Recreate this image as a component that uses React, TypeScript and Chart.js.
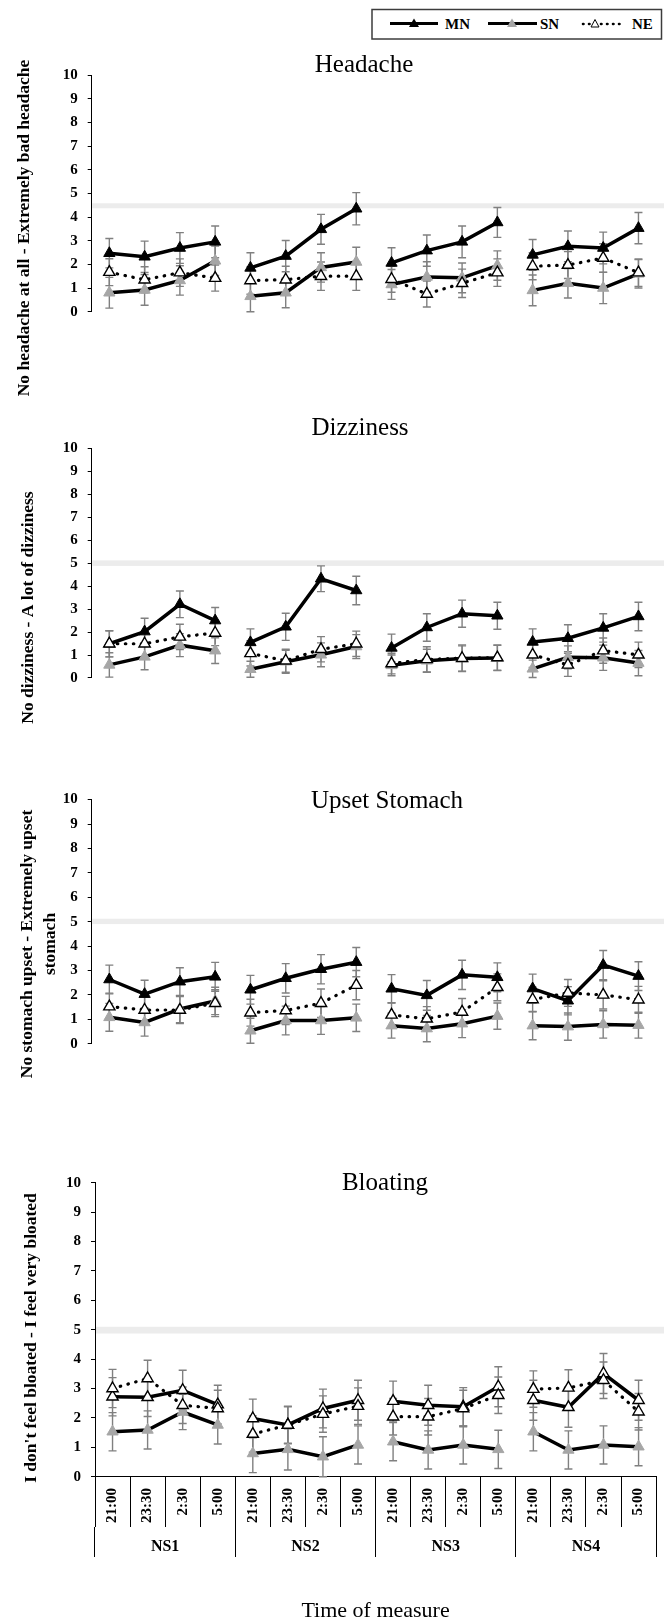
import React, { useEffect, useRef } from 'react';
import { Chart, registerables } from 'chart.js';

Chart.register(...registerables);

// ---------------- data ----------------
const times = ['21:00', '23:30', '2:30', '5:00'];
const nights = ['NS1', 'NS2', 'NS3', 'NS4'];
const seriesNames = ['MN', 'SN', 'NE'];
const panelTitles = ['Headache', 'Dizziness', 'Upset Stomach', 'Bloating'];
const yAxisTitles = [
  ['No headache at all - Extremely bad headache'],
  ['No dizziness - A lot of dizziness'],
  ['No stomach upset - Extremely upset', 'stomach'],
  ["I don't feel bloated - I feel very bloated"],
];
const xAxisTitle = 'Time of measure';
const bandLow = [4.37, 4.88, 4.9, 4.87];
const bandHigh = [4.58, 5.12, 5.12, 5.1];

const headacheMN = [2.47, 2.32, 2.69, 2.95, 1.85, 2.35, 3.48, 4.35, 2.06, 2.58, 2.95, 3.77, 2.4, 2.76, 2.69, 3.53];
const headacheMNErr = [0.62, 0.66, 0.65, 0.67, 0.64, 0.66, 0.63, 0.68, 0.64, 0.66, 0.67, 0.63, 0.65, 0.65, 0.67, 0.66];
const headacheSN = [0.8, 0.92, 1.32, 2.15, 0.65, 0.8, 1.87, 2.1, 1.15, 1.47, 1.43, 1.95, 0.9, 1.2, 1.0, 1.6];
const headacheSNErr = [0.65, 0.65, 0.62, 0.62, 0.65, 0.63, 0.62, 0.62, 0.63, 0.64, 0.63, 0.62, 0.65, 0.62, 0.66, 0.6];
const headacheNE = [1.67, 1.35, 1.65, 1.42, 1.32, 1.35, 1.5, 1.5, 1.37, 0.75, 1.2, 1.65, 1.92, 1.97, 2.27, 1.65];
const headacheNEErr = [0.57, 0.55, 0.58, 0.55, 0.58, 0.57, 0.6, 0.6, 0.55, 0.55, 0.6, 0.58, 0.57, 0.57, 0.6, 0.58];

const dizzinessMN = [1.49, 2.02, 3.21, 2.5, 1.55, 2.23, 4.32, 3.81, 1.31, 2.2, 2.8, 2.71, 1.57, 1.73, 2.18, 2.68];
const dizzinessMNErr = [0.57, 0.58, 0.58, 0.57, 0.59, 0.59, 0.56, 0.62, 0.6, 0.6, 0.59, 0.59, 0.57, 0.59, 0.62, 0.62];
const dizzinessSN = [0.57, 0.92, 1.43, 1.19, 0.38, 0.71, 1.01, 1.37, 0.55, 0.75, 0.85, 0.87, 0.4, 0.9, 0.88, 0.65];
const dizzinessSNErr = [0.53, 0.56, 0.5, 0.56, 0.35, 0.5, 0.52, 0.52, 0.45, 0.5, 0.55, 0.55, 0.38, 0.5, 0.55, 0.55];
const dizzinessNE = [1.49, 1.49, 1.79, 1.96, 1.07, 0.75, 1.25, 1.49, 0.63, 0.81, 0.86, 0.89, 1.01, 0.57, 1.19, 1.01];
const dizzinessNEErr = [0.57, 0.55, 0.55, 0.55, 0.55, 0.5, 0.55, 0.55, 0.45, 0.55, 0.58, 0.55, 0.55, 0.5, 0.55, 0.55];

const upsetMN = [2.63, 2.03, 2.54, 2.74, 2.21, 2.68, 3.05, 3.34, 2.25, 1.98, 2.82, 2.72, 2.26, 1.76, 3.22, 2.77];
const upsetMNErr = [0.59, 0.57, 0.57, 0.59, 0.59, 0.6, 0.6, 0.6, 0.58, 0.61, 0.6, 0.59, 0.59, 0.58, 0.6, 0.59];
const upsetSN = [1.08, 0.87, 1.42, 1.75, 0.53, 0.95, 0.95, 1.06, 0.74, 0.62, 0.82, 1.13, 0.74, 0.7, 0.79, 0.76];
const upsetSNErr = [0.57, 0.56, 0.56, 0.56, 0.51, 0.59, 0.57, 0.56, 0.51, 0.54, 0.57, 0.54, 0.58, 0.56, 0.56, 0.53];
const upsetNE = [1.52, 1.38, 1.38, 1.66, 1.27, 1.36, 1.66, 2.4, 1.18, 1.02, 1.3, 2.31, 1.81, 2.08, 2.0, 1.8];
const upsetNEErr = [0.55, 0.55, 0.55, 0.55, 0.55, 0.58, 0.58, 0.6, 0.5, 0.5, 0.55, 0.55, 0.5, 0.55, 0.58, 0.55];

const bloatingMN = [2.72, 2.7, 2.94, 2.45, 1.98, 1.76, 2.32, 2.6, 2.57, 2.43, 2.38, 3.06, 2.6, 2.36, 3.51, 2.6];
const bloatingMNErr = [0.65, 0.65, 0.68, 0.66, 0.66, 0.64, 0.66, 0.68, 0.68, 0.68, 0.65, 0.68, 0.68, 0.68, 0.68, 0.68];
const bloatingSN = [1.53, 1.59, 2.2, 1.76, 0.79, 0.93, 0.68, 1.08, 1.19, 0.91, 1.08, 0.93, 1.53, 0.91, 1.08, 1.02];
const bloatingSNErr = [0.65, 0.65, 0.6, 0.65, 0.65, 0.7, 0.68, 0.65, 0.65, 0.65, 0.65, 0.65, 0.65, 0.65, 0.65, 0.65];
const bloatingNE = [3.0, 3.34, 2.43, 2.32, 1.45, 1.76, 2.13, 2.4, 2.04, 2.04, 2.32, 2.77, 2.98, 3.02, 3.28, 2.21];
const bloatingNEErr = [0.65, 0.62, 0.62, 0.62, 0.62, 0.62, 0.62, 0.62, 0.62, 0.62, 0.62, 0.62, 0.62, 0.62, 0.62, 0.62];

const seriesByPanel = [
  [[headacheMN, headacheMNErr], [headacheSN, headacheSNErr], [headacheNE, headacheNEErr]],
  [[dizzinessMN, dizzinessMNErr], [dizzinessSN, dizzinessSNErr], [dizzinessNE, dizzinessNEErr]],
  [[upsetMN, upsetMNErr], [upsetSN, upsetSNErr], [upsetNE, upsetNEErr]],
  [[bloatingMN, bloatingMNErr], [bloatingSN, bloatingSNErr], [bloatingNE, bloatingNEErr]],
];

// ---------------- layout / style ----------------
const SERIF = '"Liberation Serif", "Times New Roman", serif';
const W = 664;
const panelLayout = [
  { top: 45, height: 360, chartTop: 75, chartBottom: 362, axisX: 91.7, titleX: 364, titleY: 71.7, labelX: 24, labelY: 228, labelGap: 22.5, mnFill: '#000' },
  { top: 410, height: 340, chartTop: 448.3, chartBottom: 728.3, axisX: 91.7, titleX: 360, titleY: 435, labelX: 28, labelY: 607.5, labelGap: 22.5, mnFill: '#000' },
  { top: 770, height: 345, chartTop: 799.6, chartBottom: 1094, axisX: 91.7, titleX: 387, titleY: 807.7, labelX: 27.5, labelY: 944, labelGap: 22.5, mnFill: '#000' },
  { top: 1150, height: 472, chartTop: 1182.7, chartBottom: 1476.7, axisX: 95, titleX: 385, titleY: 1190, labelX: 31, labelY: 1338, labelGap: 22.5, mnFill: '#fff' },
];
const X_AXIS_H = 50.3;
const X2_AXIS_H = 95;
const SN_GRAY = '#a6a6a6';

Chart.defaults.font.family = SERIF;

const bandPlugin = {
  id: 'band',
  beforeDraw(chart: any, _args: any, opts: any) {
    const { ctx, chartArea } = chart;
    const y = chart.scales.y;
    const t = y.getPixelForValue(opts.hi);
    const b = y.getPixelForValue(opts.lo);
    ctx.save();
    ctx.fillStyle = '#ececec';
    ctx.fillRect(chartArea.left + 0.5, t, chart.width - chartArea.left, b - t);
    ctx.restore();
  },
};

const errorBarsPlugin = {
  id: 'errorBars',
  beforeDatasetsDraw(chart: any) {
    const { ctx } = chart;
    const y = chart.scales.y;
    ctx.save();
    ctx.strokeStyle = '#808080';
    ctx.lineWidth = 1.4;
    chart.data.datasets.forEach((ds: any, di: number) => {
      if (!ds.errors) return;
      const meta = chart.getDatasetMeta(di);
      meta.data.forEach((pt: any, i: number) => {
        const v = ds.data[i];
        const e = ds.errors[i];
        const x = pt.x;
        const yt = y.getPixelForValue(v + e);
        const yb = y.getPixelForValue(Math.max(v - e, 0));
        ctx.beginPath();
        ctx.moveTo(x, yt);
        ctx.lineTo(x, yb);
        ctx.moveTo(x - 4, yt);
        ctx.lineTo(x + 4, yt);
        ctx.moveTo(x - 4, yb);
        ctx.lineTo(x + 4, yb);
        ctx.stroke();
      });
    });
    ctx.restore();
  },
};

const panelTextPlugin = {
  id: 'panelText',
  afterDraw(chart: any, _args: any, opts: any) {
    const { ctx } = chart;
    ctx.save();
    ctx.fillStyle = '#000';
    ctx.font = `25px ${SERIF}`;
    ctx.textAlign = 'center';
    ctx.textBaseline = 'alphabetic';
    ctx.fillText(opts.title, opts.titleX, opts.titleY - opts.offsetY);
    ctx.font = `bold 17.5px ${SERIF}`;
    ctx.textBaseline = 'middle';
    opts.label.forEach((line: string, k: number) => {
      ctx.save();
      ctx.translate(opts.labelX + k * opts.labelGap, opts.labelY - opts.offsetY);
      ctx.rotate(-Math.PI / 2);
      ctx.fillText(line, 0, 0);
      ctx.restore();
    });
    ctx.restore();
  },
};

const groupGap = (color: string) => (ctx: any) =>
  ctx.p0DataIndex % times.length === times.length - 1 ? 'rgba(0,0,0,0)' : color;

function buildChart(canvas: HTMLCanvasElement, idx: number) {
  const L = panelLayout[idx];
  const isLast = idx === panelLayout.length - 1;
  const [[mn, mnErr], [sn, snErr], [ne, neErr]] = seriesByPanel[idx];
  const categories = nights.flatMap(() => times);

  const tickFont = { family: SERIF, size: 15, weight: 'bold' as const };

  const scales: any = {
    x: {
      display: isLast,
      offset: true,
      grid: { display: true, offset: true, drawOnChartArea: false, drawTicks: true, tickLength: X_AXIS_H, color: '#000', lineWidth: 1 },
      border: { display: true, color: '#000', width: 1 },
      ticks: { autoSkip: false, minRotation: 90, maxRotation: 90, padding: -39, color: '#000', font: tickFont },
      afterFit: (s: any) => { s.height = X_AXIS_H; },
    },
    y: {
      min: 0,
      max: 10,
      ticks: { stepSize: 1, color: '#000', font: tickFont, padding: 10 },
      grid: { drawOnChartArea: false, drawTicks: true, tickLength: 4, color: '#000', lineWidth: 1 },
      border: { display: true, color: '#000', width: 1 },
      afterFit: (s: any) => { s.width = L.axisX; },
    },
  };
  if (isLast) {
    scales.x2 = {
      type: 'category',
      labels: nights,
      position: 'bottom',
      offset: true,
      grid: { display: true, offset: true, drawOnChartArea: false, drawTicks: true, tickLength: 30, color: '#000', lineWidth: 1 },
      border: { display: false },
      ticks: { autoSkip: false, minRotation: 0, maxRotation: 0, padding: -20, color: '#000', font: { family: SERIF, size: 16, weight: 'bold' } },
      title: { display: true, text: xAxisTitle, color: '#000', font: { family: SERIF, size: 22, lineHeight: 1 }, padding: 0 },
      afterFit: (s: any) => { s.height = X2_AXIS_H; },
    };
  }

  const padTop = L.chartTop - L.top;
  const padBottom = isLast ? 0 : L.top + L.height - L.chartBottom;

  return new Chart(canvas, {
    type: 'line',
    data: {
      labels: categories,
      datasets: [
        {
          label: seriesNames[0],
          data: mn,
          errors: mnErr,
          borderColor: '#000',
          borderWidth: 3.5,
          pointStyle: 'triangle',
          pointRadius: 6.5,
          pointBackgroundColor: L.mnFill,
          pointBorderColor: '#000',
          pointBorderWidth: L.mnFill === '#fff' ? 1.4 : 1,
          tension: 0,
          order: 1,
          segment: { borderColor: groupGap('#000') },
        } as any,
        {
          label: seriesNames[1],
          data: sn,
          errors: snErr,
          borderColor: '#000',
          borderWidth: 3.5,
          pointStyle: 'triangle',
          pointRadius: 6.5,
          pointBackgroundColor: SN_GRAY,
          pointBorderColor: SN_GRAY,
          pointBorderWidth: 1,
          tension: 0,
          order: 2,
          segment: { borderColor: groupGap('#000') },
        } as any,
        {
          label: seriesNames[2],
          data: ne,
          errors: neErr,
          borderColor: '#000',
          borderWidth: 3.2,
          borderDash: [0.5, 7.5],
          borderCapStyle: 'round',
          pointStyle: 'triangle',
          pointRadius: 6.5,
          pointBackgroundColor: '#fff',
          pointBorderColor: '#000',
          pointBorderWidth: 1.4,
          tension: 0,
          order: 0,
          segment: { borderColor: groupGap('#000') },
        } as any,
      ],
    },
    options: {
      animation: false,
      responsive: false,
      devicePixelRatio: 1,
      events: [],
      layout: { padding: { top: padTop, bottom: padBottom, left: 0, right: W - 661 } },
      plugins: {
        legend: { display: false },
        tooltip: { enabled: false },
        band: { lo: bandLow[idx], hi: bandHigh[idx] },
        panelText: {
          title: panelTitles[idx],
          titleX: L.titleX,
          titleY: L.titleY,
          label: yAxisTitles[idx],
          labelX: L.labelX,
          labelY: L.labelY,
          labelGap: L.labelGap,
          offsetY: L.top,
        },
      } as any,
      scales,
    },
    plugins: [bandPlugin, errorBarsPlugin, panelTextPlugin],
  });
}

function Legend() {
  const fontFamily = SERIF;
  return (
    <svg width={W} height={45} style={{ position: 'absolute', left: 0, top: 0 }}>
      <rect x={372} y={9.5} width={289.5} height={29.5} fill="#fff" stroke="#3c3c3c" strokeWidth={1.5} />
      <line x1={390} y1={23.5} x2={438} y2={23.5} stroke="#000" strokeWidth={3.2} />
      <polygon points="414,18.5 419,27 409,27" fill="#000" />
      <text x={445} y={28.5} fontFamily={fontFamily} fontWeight="bold" fontSize={15} fill="#000">{seriesNames[0]}</text>
      <line x1={488} y1={23.5} x2={537} y2={23.5} stroke="#000" strokeWidth={3.2} />
      <polygon points="512,18.5 517,27 507,27" fill={SN_GRAY} />
      <text x={540} y={28.5} fontFamily={fontFamily} fontWeight="bold" fontSize={15} fill="#000">{seriesNames[1]}</text>
      <line x1={583} y1={24} x2={624} y2={24} stroke="#000" strokeWidth={2.6} strokeDasharray="0.5 5.5" strokeLinecap="round" />
      <polygon points="595,19.5 599,27 591,27" fill="#fff" stroke="#000" strokeWidth={1} />
      <text x={632} y={28.5} fontFamily={fontFamily} fontWeight="bold" fontSize={15} fill="#000">{seriesNames[2]}</text>
    </svg>
  );
}

export default function App() {
  const r0 = useRef<HTMLCanvasElement>(null);
  const r1 = useRef<HTMLCanvasElement>(null);
  const r2 = useRef<HTMLCanvasElement>(null);
  const r3 = useRef<HTMLCanvasElement>(null);
  const refs = [r0, r1, r2, r3];

  useEffect(() => {
    const charts = refs.map((r, i) => buildChart(r.current as HTMLCanvasElement, i));
    return () => charts.forEach((c) => c.destroy());
  }, []);

  return (
    <div style={{ position: 'absolute', left: 0, top: 0, width: W, height: 1622, background: '#fff', overflow: 'hidden' }}>
      {panelLayout.map((L, i) => (
        <canvas
          key={i}
          ref={refs[i]}
          width={W}
          height={L.height}
          style={{ position: 'absolute', left: 0, top: L.top, width: W, height: L.height }}
        />
      ))}
      <Legend />
    </div>
  );
}
